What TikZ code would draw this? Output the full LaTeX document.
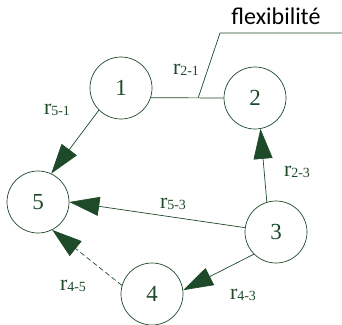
\documentclass[tikz,border=0pt]{standalone}
\usepackage{fontspec}
\setmainfont{Liberation Serif}
\newfontfamily\calfont{Carlito}
\usetikzlibrary{arrows.meta, calc}
\definecolor{myGreen}{HTML}{1E4A2A}
\newcommand{\rsub}[1]{r{\fontsize{14}{14}\selectfont\raisebox{-1pt}{#1}}}

\begin{document}
\begin{tikzpicture}[x=1pt, y=-1pt,
  state/.style={circle, draw=myGreen, line width=0.7pt, minimum size=62pt,
                inner sep=0pt, font=\fontsize{23}{23}\selectfont, text=myGreen},
  lab/.style={font=\fontsize{22}{22}\selectfont, text=myGreen, inner sep=0pt},
  plain/.style={draw=myGreen, line width=0.7pt},
  link/.style={plain, -{Triangle[length=30pt, width=19pt]}}
]
\useasboundingbox (0,0) rectangle (342,324);
% states
\node[state] (n1) at (121,88)  {1};
\node[state] (n2) at (255,98)  {2};
\node[state] (n3) at (276,232) {3};
\node[state] (n4) at (152,294) {4};
\node[state] (n5) at (38,202)  {5};
% labels
\node[lab] (l21) at (186,70)  {\rsub{2-1}};
\node[lab] (l51) at (57,110)  {\rsub{5-1}};
\node[lab] (l23) at (297,172) {\rsub{2-3}};
\node[lab] (l53) at (173,204) {\rsub{5-3}};
\node[lab] (l45) at (73,286)  {\rsub{4-5}};
\node[lab] (l43) at (243,295) {\rsub{4-3}};
\node[font=\calfont\fontsize{24}{24}\selectfont, inner sep=0pt] (flex) at (276,16) {flexibilité};
% links
\draw[plain] (n1.-18) -- (n2.west);
\draw[link] (n1.-135) -- (n5.65);
\draw[link] (n3.107) -- (n2.-80);
\draw[link] (n3.172) -- (n5.0);
\draw[link] (n3.-135) -- (n4.7);
\draw[link, dash pattern=on 5pt off 3pt] (n4.164) -- (n5.-63);
% leader to the note
\coordinate (split) at ($(n1.-18)!0.65!(n2.west)$);
\coordinate (bend) at (220,33);
\coordinate (rim) at (342,33);
\draw[plain] (split) -- (bend) -- (rim);
\end{tikzpicture}
\end{document}
